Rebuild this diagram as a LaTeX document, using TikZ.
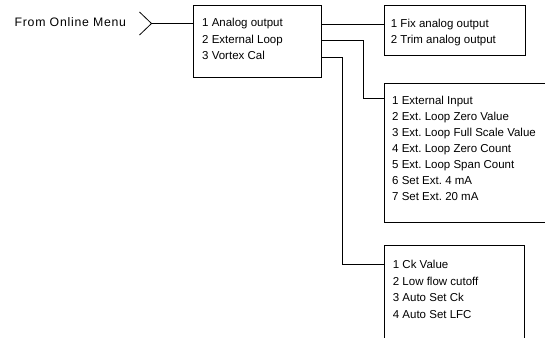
\documentclass[tikz,border=0pt]{standalone}
\usepackage{fontspec}
\setmainfont{Liberation Sans}
\newfontfamily\labelfont[LetterSpace=6]{Liberation Sans}
\begin{document}
\begin{tikzpicture}[x=1pt,y=-1pt,line width=0.8pt,
  box/.style={draw,rectangle,anchor=north west,inner sep=0pt},
  item/.style={anchor=base west,inner sep=0pt,font=\fontsize{11.5}{14}\selectfont},
  lbl/.style={anchor=base east,inner sep=0pt,font=\labelfont\fontsize{12.3}{14}\selectfont}]
\useasboundingbox (0,0) rectangle (545,337);
\clip (0,0) rectangle (545,337);
% boxes
\node[box,minimum width=128pt,minimum height=72pt] (b1) at (193,5) {};
\node[box,minimum width=141pt,minimum height=50pt] (b2) at (384,5) {};
\node[box,minimum width=166pt,minimum height=139pt] (b3) at (384,83) {};
\node[box,minimum width=140pt,minimum height=110pt] (b4) at (384,245) {};
% label
\node[lbl] (from) at (126.5,26.7) {From Online Menu};
% box 1 text
\node[item] (a1) at (201.8,27) {1 Analog output};
\node[item] (a2) at (201.8,43.3) {2 External Loop};
\node[item] (a3) at (201.8,59.6) {3 Vortex Cal};
% box 2 text
\foreach \t [count=\i] in {1 Fix analog output,2 Trim analog output}
  \node[item] (f\i) at (390.5,{27.3+16.3*(\i-1)}) {\t};
% box 3 text
\foreach \t [count=\i] in {1 External Input,2 Ext.\ Loop Zero Value,3 Ext.\ Loop Full Scale Value,4 Ext.\ Loop Zero Count,5 Ext.\ Loop Span Count,6 Set Ext.\ 4 mA,7 Set Ext.\ 20 mA}
  \node[item] (e\i) at (391.8,{104.6+16.05*(\i-1)}) {\t};
% box 4 text
\foreach \t [count=\i] in {1 Ck Value,2 Low flow cutoff,3 Auto Set Ck,4 Auto Set LFC}
  \node[item] (c\i) at (392.5,{268.3+16.7*(\i-1)}) {\t};
% connector points
\coordinate (tip) at (151.5,23.5);
\coordinate (ctop) at (139.5,12);
\coordinate (cbot) at (139.5,35);
\coordinate (p1) at (0,24);
\coordinate (p2) at (0,40);
\coordinate (p3) at (0,57);
\coordinate (k2) at (363.5,98);
\coordinate (k3) at (342.5,264);
% connectors
\draw (ctop) -- (tip) -- (cbot);
\draw (tip) -- (b1.west |- tip);
\draw (b1.east |- p1) -- (b2.west |- p1);
\draw (b1.east |- p2) -| (k2) -- (b3.west |- k2);
\draw (b1.east |- p3) -| (k3) -- (b4.west |- k3);
\end{tikzpicture}
\end{document}
